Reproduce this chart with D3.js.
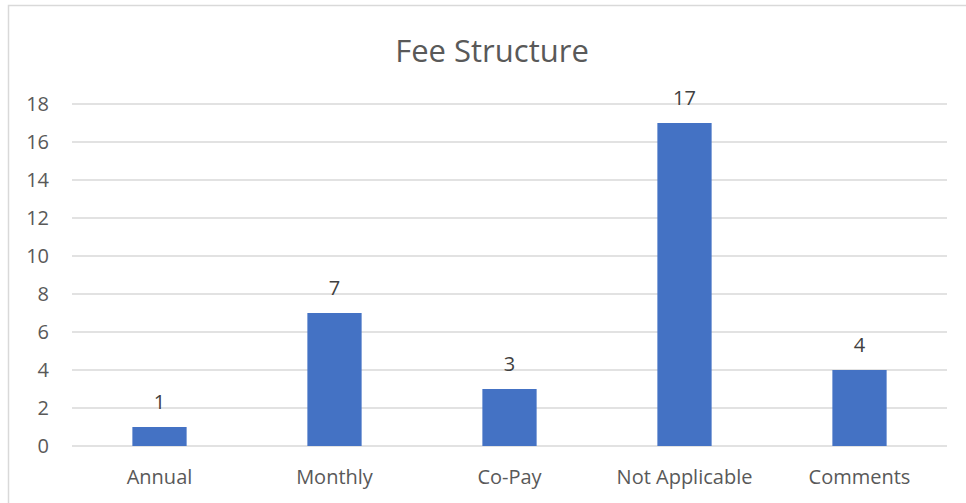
<!DOCTYPE html>
<html>
<head>
<meta charset="utf-8">
<script src="https://cdn.jsdelivr.net/npm/d3@7"></script>
<style>
  body { margin: 0; background: #fff; }
  text { font-family: "Open Sans", "Liberation Sans", sans-serif; }
</style>
</head>
<body>
<div id="chart"></div>
<script>
var categories = ["Annual", "Monthly", "Co-Pay", "Not Applicable", "Comments"];
var values = [1, 7, 3, 17, 4];
var yTicks = [0, 2, 4, 6, 8, 10, 12, 14, 16, 18];

var w = 966, h = 503;

var svg = d3.select("#chart")
    .append("svg")
    .attr("width", w)
    .attr("height", h);

// chart frame
svg.append("rect")
    .attr("x", 8.5)
    .attr("y", 5.5)
    .attr("width", 970)
    .attr("height", 520)
    .attr("fill", "none")
    .attr("stroke", "#d9d9d9")
    .attr("stroke-width", 1.5);

svg.append("text")
    .attr("x", 492)
    .attr("y", 62)
    .attr("text-anchor", "middle")
    .style("font-size", "31px")
    .style("fill", "#595959")
    .text("Fee Structure");

var x = d3.scaleBand()
    .domain(categories)
    .range([72, 947])
    .paddingInner(0.69)
    .paddingOuter(0.345);

var y = d3.scaleLinear()
    .domain([0, 18])
    .range([446, 104]);

svg.append("g")
    .selectAll("line")
    .data(yTicks)
    .enter()
    .append("line")
    .attr("x1", 72)
    .attr("x2", 947)
    .attr("y1", function (d) { return y(d); })
    .attr("y2", function (d) { return y(d); })
    .attr("stroke", "#d9d9d9")
    .attr("stroke-width", 1.3);

svg.append("g")
    .selectAll("text")
    .data(yTicks)
    .enter()
    .append("text")
    .attr("x", 49)
    .attr("y", function (d) { return y(d); })
    .attr("dy", "0.35em")
    .attr("text-anchor", "end")
    .style("font-size", "20px")
    .style("fill", "#595959")
    .text(function (d) { return d; });

svg.append("g")
    .selectAll("rect")
    .data(values)
    .enter()
    .append("rect")
    .attr("x", function (d, i) { return x(categories[i]); })
    .attr("width", x.bandwidth())
    .attr("y", function (d) { return y(d); })
    .attr("height", function (d) { return y(0) - y(d); })
    .attr("fill", "#4472c4");

svg.append("g")
    .selectAll("text")
    .data(values)
    .enter()
    .append("text")
    .attr("x", function (d, i) { return x(categories[i]) + x.bandwidth() / 2; })
    .attr("y", function (d) { return y(d) - 18; })
    .attr("text-anchor", "middle")
    .style("font-size", "20px")
    .style("fill", "#404040")
    .text(function (d) { return d; });

svg.append("g")
    .selectAll("text")
    .data(categories)
    .enter()
    .append("text")
    .attr("x", function (d) { return x(d) + x.bandwidth() / 2; })
    .attr("y", 484)
    .attr("text-anchor", "middle")
    .style("font-size", "20px")
    .style("fill", "#595959")
    .text(function (d) { return d; });
</script>
</body>
</html>
